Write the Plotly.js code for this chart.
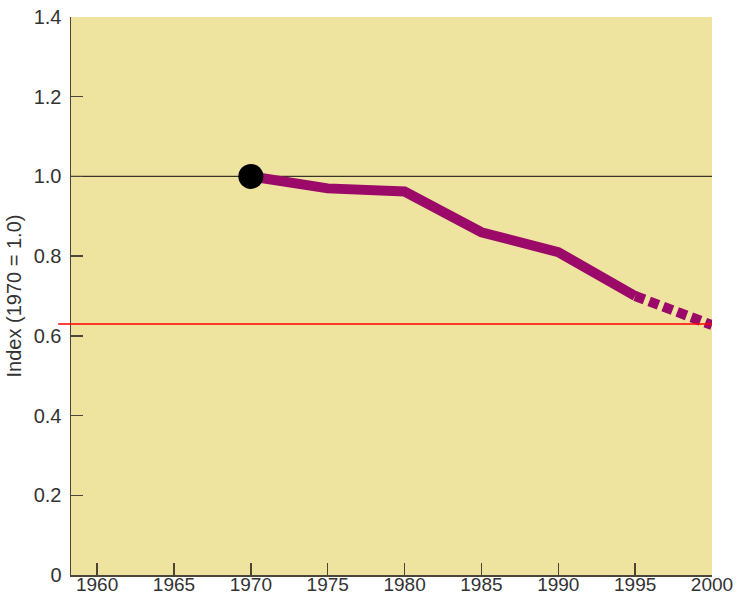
<!DOCTYPE html>
<html><head><meta charset="utf-8">
<script src="https://cdn.plot.ly/plotly-3.0.1.min.js"></script>
<style>html,body{margin:0;padding:0;background:#fff;}#chart{width:738px;height:596px;}</style>
</head><body><div id="chart"></div>
<script>
const years = [1970, 1975, 1980, 1985, 1990, 1995];
const indexVals = [1.0, 0.97, 0.962, 0.86, 0.81, 0.70];
const projYears = [1995, 2000];
const projVals = [0.70, 0.627];
const startYear = [1970];
const startVal = [1.0];
const refLevel = 1.0;
const targetLevel = 0.63;
const xTicks = [1960, 1965, 1970, 1975, 1980, 1985, 1990, 1995, 2000];
const yTicks = [0, 0.2, 0.4, 0.6, 0.8, 1.0, 1.2, 1.4];
const yTickText = ['0', '0.2', '0.4', '0.6', '0.8', '1.0', '1.2', '1.4'];
const titleText = '1970–2000';
const yTitle = 'Index (1970 = 1.0)';

const purple = '#9b0a68';
const traces = [
  {x: projYears, y: projVals, mode: 'lines', line: {color: purple, width: 10, dash: '10px,5px'}, hoverinfo: 'skip'},
  {x: years, y: indexVals, mode: 'lines', line: {color: purple, width: 10}, hoverinfo: 'skip'},
  {x: startYear, y: startVal, mode: 'markers', marker: {color: '#000', size: 25}, hoverinfo: 'skip'}
];
const axisCol = '#4d4535';
const fam = '"Liberation Sans", Arial, Helvetica, sans-serif';
const layout = {
  width: 738, height: 596,
  margin: {l: 71, r: 26, t: 17, b: 21},
  paper_bgcolor: '#ffffff',
  plot_bgcolor: '#efe3a0',
  showlegend: false,
  font: {family: fam, color: '#333'},
  xaxis: {range: [1958.3, 2000], tickvals: xTicks, ticks: 'inside', ticklen: 12, tickcolor: axisCol, tickwidth: 1.5,
    showgrid: false, zeroline: false, showline: true, linecolor: axisCol, linewidth: 1.5,
    tickfont: {family: fam, size: 19, color: '#333'}, ticklabelstandoff: -8},
  yaxis: {range: [0, 1.4], tickvals: yTicks, ticktext: yTickText, ticks: 'inside', ticklen: 12, tickcolor: axisCol, tickwidth: 1.5,
    showgrid: false, zeroline: false, showline: true, linecolor: axisCol, linewidth: 1.5,
    tickfont: {family: fam, size: 20, color: '#333'}, ticklabelstandoff: 4,
    title: {text: yTitle, font: {family: fam, size: 20, color: '#333'}, standoff: 6}},
  shapes: [
    {type: 'line', xref: 'paper', yref: 'y', x0: 0, x1: 1, y0: refLevel, y1: refLevel, line: {color: '#3a3426', width: 1.2}, layer: 'below'},
    {type: 'line', xref: 'paper', yref: 'y', x0: -0.02, x1: 1, y0: targetLevel, y1: targetLevel, line: {color: '#ff0000', width: 1.5}}
  ],
  annotations: [
    {text: titleText, xref: 'paper', yref: 'paper', x: 0.006, y: 1.021, xanchor: 'left', yanchor: 'bottom', showarrow: false,
     font: {family: fam, size: 23, color: '#222'}}
  ]
};
Plotly.newPlot('chart', traces, layout, {displayModeBar: false, staticPlot: true});
</script></body></html>
